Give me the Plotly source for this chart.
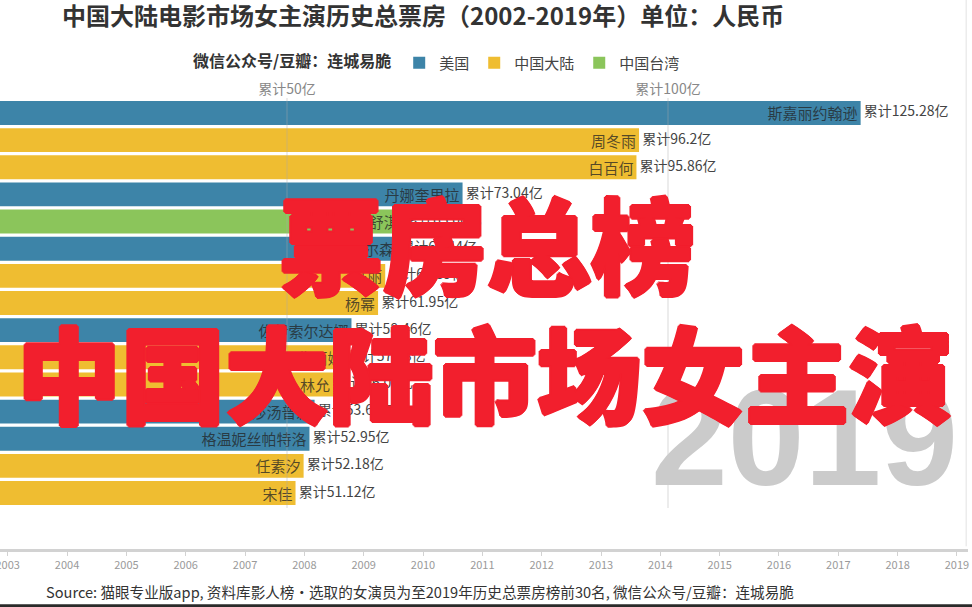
import plotly.graph_objects as go

# 2019 snapshot: top 15 actresses, cumulative box office (亿元)
names = ["斯嘉丽约翰逊", "周冬雨", "白百何", "丹娜奎里拉", "舒淇", "布丽拉尔森", "马丽", "杨幂",
         "佐伊索尔达娜", "佟丽娅", "林允", "泰莎汤普森", "格温妮丝帕特洛", "任素汐", "宋佳"]
values = [125.28, 96.2, 95.86, 73.04, 65.06, 64.44, 62.89, 61.95,
          58.46, 57.68, 56.04, 53.62, 52.95, 52.18, 51.12]
regions = ["美国", "中国大陆", "中国大陆", "美国", "中国台湾", "美国", "中国大陆", "中国大陆",
           "美国", "中国大陆", "中国大陆", "美国", "美国", "中国大陆", "中国大陆"]

region_order = ["美国", "中国大陆", "中国台湾"]
region_colors = {"美国": "#3d84a8", "中国大陆": "#efbd31", "中国台湾": "#8bc55b"}

grid_vals = [50, 100]
grid_text = ["累计50亿", "累计100亿"]
years = list(range(2002, 2020))

FONT = "Liberation Sans Narrow, Noto Sans CJK SC, sans-serif"
CJK = "Noto Sans CJK SC, sans-serif"
RED = "#f21f2d"

rows = list(range(len(names)))

fig = go.Figure()

# one bar trace per region so the legend comes out right
for reg in region_order:
    idx = [i for i in rows if regions[i] == reg]
    fig.add_trace(go.Bar(
        x=[values[i] for i in idx], y=[rows[i] for i in idx],
        orientation="h", width=0.88, name=reg,
        marker=dict(color=region_colors[reg], line=dict(width=0)),
        text=[names[i] for i in idx], textposition="inside", insidetextanchor="end",
        textangle=0, constraintext="none",
        textfont=dict(size=15, color="rgba(35,35,35,0.75)", family=CJK),
        hoverinfo="skip"))

# cumulative labels right of each bar
fig.add_trace(go.Scatter(
    x=values, y=rows, mode="text", showlegend=False, cliponaxis=False,
    text=[" 累计%g亿" % v for v in values], textposition="middle right",
    textfont=dict(size=14, color="#444444", family=FONT), hoverinfo="skip"))

# timeline axis (invisible trace so the subplot exists)
fig.add_trace(go.Scatter(x=[years[-1]], y=[0], xaxis="x2", yaxis="y2", mode="markers",
                         marker=dict(opacity=0), showlegend=False, hoverinfo="skip"))

# faint gridlines drawn over the bars
shapes = []
for g in grid_vals:
    shapes.append(dict(type="line", xref="x", yref="y domain", x0=g, x1=g, y0=0, y1=1,
                       line=dict(color="rgba(170,170,170,0.45)", width=1), layer="above"))
shapes.append(dict(type="line", xref="paper", yref="paper", x0=0, x1=1, y0=0.002, y1=0.002,
                   line=dict(color="#2a2a2a", width=3)))
shapes.append(dict(type="line", xref="paper", yref="paper", x0=0.994, x1=0.994, y0=0.1, y1=1,
                   line=dict(color="#e2e2e2", width=1)))

# heavier look for the red overlay
thick = ", ".join("%dpx %dpx 0 %s" % (dx, dy, RED)
                  for dx, dy in [(2, 0), (-2, 0), (0, 2), (0, -2), (1, 1), (-1, -1), (1, -1), (-1, 1)])

annotations = [
    dict(text=str(years[-1]), xref="paper", yref="paper", x=0.988, y=1 - 437 / 607,
         xanchor="right", yanchor="middle", showarrow=False,
         font=dict(size=138, color="#cbcbcb", family="Liberation Sans, Arial", weight="bold")),
    dict(text="票房总榜", xref="paper", yref="paper", x=487 / 972, y=1 - 241 / 607,
         xanchor="center", yanchor="middle", showarrow=False,
         font=dict(size=104, color=RED, family=CJK, weight=900, shadow=thick)),
    dict(text="中国大陆市场女主演", xref="paper", yref="paper", x=485 / 972, y=1 - 370 / 607,
         xanchor="center", yanchor="middle", showarrow=False,
         font=dict(size=104, color=RED, family=CJK, weight=900, shadow=thick)),
    dict(text="Source: 猫眼专业版app, 资料库影人榜·选取的女演员为至2019年历史总票房榜前30名, 微信公众号/豆瓣：连城易脆",
         xref="paper", yref="paper", x=44 / 972, y=1 - 591 / 607, xanchor="left", yanchor="middle",
         showarrow=False, font=dict(size=14.6, color="#333333", family=FONT)),
]

fig.update_layout(
    width=972, height=607,
    margin=dict(l=0, r=0, t=0, b=0),
    template="none",
    paper_bgcolor="white", plot_bgcolor="white",
    font=dict(family=FONT),
    barmode="overlay",
    title=dict(text="<b>中国大陆电影市场女主演历史总票房（2002-2019年）单位：人民币</b>",
               x=62 / 972, xanchor="left", y=1 - 17 / 607, yanchor="middle",
               font=dict(size=24, color="#333333", family=CJK)),
    legend=dict(orientation="h", x=438 / 972, xanchor="center", y=1 - 63 / 607, yanchor="middle",
                title=dict(text="<b>微信公众号/豆瓣：连城易脆</b>", side="left",
                           font=dict(size=16, color="#333333", family=CJK)),
                font=dict(size=15, color="#444444", family=CJK),
                itemwidth=30, traceorder="normal", bgcolor="rgba(0,0,0,0)"),
    xaxis=dict(domain=[0, 1], range=[94 / 7.62, 1066 / 7.62], side="top",
               tickvals=grid_vals, ticktext=grid_text, ticks="", showgrid=False,
               zeroline=False, showline=False, automargin=False, fixedrange=True,
               tickfont=dict(size=14, color="#888888", family=FONT)),
    yaxis=dict(domain=[1 - 508 / 607, 1 - 98 / 607], range=[14.55, -0.55], visible=False,
               automargin=False),
    xaxis2=dict(anchor="y2", domain=[0, 968 / 972], range=[2002.87, 2019.186],
                tickvals=years, ticktext=[str(y) for y in years], showline=True,
                linecolor="#d2d2d2", linewidth=3, ticks="outside", ticklen=4,
                tickcolor="#d2d2d2", showgrid=False, zeroline=False, automargin=False,
                ticklabeloverflow="allow",
                tickfont=dict(size=11, color="#9a9a9a", family=FONT)),
    yaxis2=dict(anchor="x2", domain=[1 - 549 / 607, 1 - 545 / 607], range=[0, 1],
                visible=False, automargin=False),
    shapes=shapes,
    annotations=annotations,
)

# drop the browser's default body margin so the figure sits at the page corner
fig.write_html("out.html", config={"displayModeBar": False},
               post_script="document.body.style.margin = '0';")
